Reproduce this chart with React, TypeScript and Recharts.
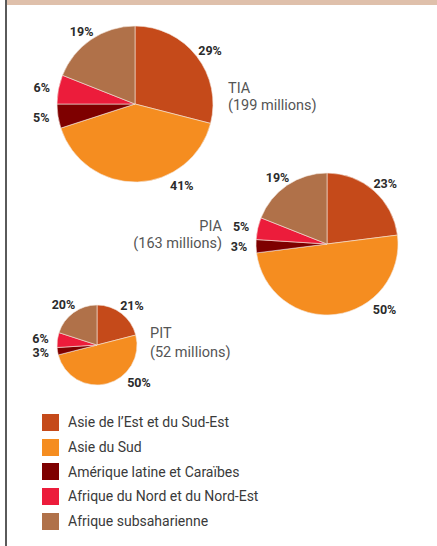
import { PieChart, Pie, Cell } from "recharts";

const categories = [
  "Asie de l’Est et du Sud-Est",
  "Asie du Sud",
  "Amérique latine et Caraïbes",
  "Afrique du Nord et du Nord-Est",
  "Afrique subsaharienne",
];
const colors = ["#c54a1a", "#f58d20", "#7e0000", "#ec1c3b", "#b07149"];

const tiaShares = [29, 41, 5, 6, 19];
const piaShares = [23, 50, 3, 5, 19];
const pitShares = [21, 50, 3, 6, 20];

const groups = [
  { code: "TIA", total: "(199 millions)", shares: tiaShares, cx: 135, cy: 104, r: 78 },
  { code: "PIA", total: "(163 millions)", shares: piaShares, cx: 327, cy: 244, r: 71 },
  { code: "PIT", total: "(52 millions)", shares: pitShares, cx: 97, cy: 345, r: 40 },
];

const font = "Roboto, 'DejaVu Sans', sans-serif";
const RAD = Math.PI / 180;

// big slices get their label pulled toward the start edge, like the original layout
const renderLabel = (props: any) => {
  const { cx, cy, outerRadius, startAngle, endAngle, midAngle, value, percent } = props;
  const big = percent > 0.35;
  const angle = big ? startAngle + (endAngle - startAngle) * 0.31 : midAngle;
  const x = cx + (outerRadius + (big ? 16 : 17)) * Math.cos(-angle * RAD);
  const y = cy + (outerRadius + (big ? 16 : 10)) * Math.sin(-angle * RAD);
  return (
    <text
      x={x}
      y={y}
      textAnchor="middle"
      dominantBaseline="central"
      fill="#2b2b2b"
      fontSize={12.5}
      fontWeight={700}
      fontFamily={font}
    >
      {value}%
    </text>
  );
};

const LegendBox = () => (
  <div style={{ position: "absolute", left: 42, top: 410, fontFamily: font }}>
    {categories.map((name, i) => (
      <div key={name} style={{ display: "flex", alignItems: "center", height: 24.7 }}>
        <span style={{ width: 17, height: 17, background: colors[i], display: "inline-block", marginRight: 9 }} />
        <span style={{ fontSize: 14, color: "#3a3a3a" }}>{name}</span>
      </div>
    ))}
  </div>
);

export default function App() {
  return (
    <div style={{ position: "absolute", left: 0, top: 0, width: 437, height: 546, background: "#fff", overflow: "hidden" }}>
      <div style={{ position: "absolute", left: 7, top: 0, width: 430, height: 5, background: "#dfc0ab" }} />
      <div style={{ position: "absolute", left: 5, top: 0, width: 2, height: 546, background: "#5a5a5a" }} />
      <div style={{ position: "absolute", left: 0, top: 0 }}>
        <PieChart width={437} height={400} margin={{ top: 0, right: 0, bottom: 0, left: 0 }}>
          {groups.map((g) => (
            <Pie
              key={g.code}
              data={categories.map((name, i) => ({ name, value: g.shares[i] }))}
              dataKey="value"
              nameKey="name"
              cx={g.cx}
              cy={g.cy}
              outerRadius={g.r}
              startAngle={90}
              endAngle={-270}
              stroke="#f3e6dc"
              strokeWidth={0.6}
              label={renderLabel}
              labelLine={false}
              isAnimationActive={false}
            >
              {categories.map((name, i) => (
                <Cell key={name} fill={colors[i]} />
              ))}
            </Pie>
          ))}
        </PieChart>
      </div>
      <LegendBox />
      <div style={{ position: "absolute", left: 228, top: 80, fontFamily: font, fontSize: 14.5, lineHeight: "17px", color: "#555" }}>
        <div>{groups[0].code}</div>
        <div>{groups[0].total}</div>
      </div>
      <div style={{ position: "absolute", right: 437 - 222, top: 218, fontFamily: font, fontSize: 14.5, lineHeight: "17px", color: "#555", textAlign: "right" }}>
        <div>{groups[1].code}</div>
        <div>{groups[1].total}</div>
      </div>
      <div style={{ position: "absolute", left: 150, top: 324, fontFamily: font, fontSize: 14.5, lineHeight: "19px", color: "#555" }}>
        <div>{groups[2].code}</div>
        <div>{groups[2].total}</div>
      </div>
    </div>
  );
}
